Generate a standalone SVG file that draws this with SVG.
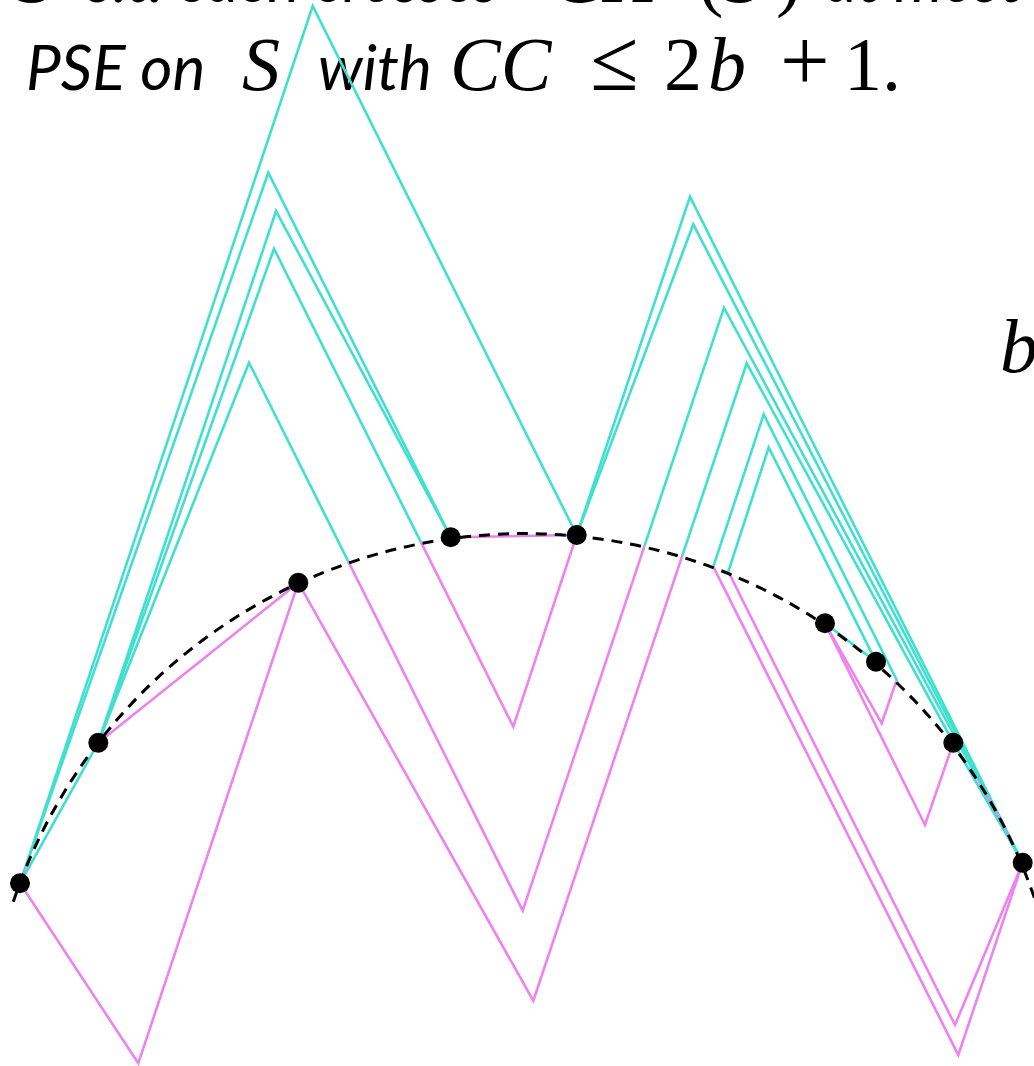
<svg xmlns="http://www.w3.org/2000/svg" xmlns:xlink="http://www.w3.org/1999/xlink" width="1034" height="1066" viewBox="0 0 1034 1066">
<style>
.cy{fill:none;stroke:#40E0D0;stroke-width:2.6;stroke-linejoin:miter;stroke-linecap:round}
.mg{fill:none;stroke:#EE82EE;stroke-width:2.6;stroke-linejoin:miter;stroke-linecap:round}
.hull{fill:none;stroke:#000;stroke-width:3;stroke-dasharray:11 8}
.pt{fill:#000}
.sans{font-family:Lato,"Open Sans","Liberation Sans",sans-serif;font-style:italic;font-size:62px;fill:#000}
.mi{font-style:italic;font-size:76px;fill:#000}
.mr{font-style:normal;font-size:76px;fill:#000}
.op{font-style:normal;font-size:88px;fill:#000}
</style>
<defs>
<clipPath id="inside"><circle cx="524.5" cy="1071.4" r="539"/></clipPath>
<clipPath id="outside"><path clip-rule="evenodd" d="M-50,-50 H1100 V1150 H-50 Z M-14.5,1071.4 a539,539 0 1,0 1078,0 a539,539 0 1,0 -1078,0 Z"/></clipPath>
<path id="e1" d="M20,883.3 L312.7,6 L576.7,535"/>
<path id="e2" d="M20,883.3 L268.3,172.7 L450.7,537.3"/>
<path id="e3" d="M98.3,742.7 L276,211 L450.7,537.3"/>
<path id="e4" d="M98.3,742.7 L274,248.7 L513.3,726.7 L576.7,535"/>
<path id="e5" d="M98.3,742.7 L249,362.7 L522.7,910.7 L724,307.7 L1022.7,862.7"/>
<path id="e6" d="M298.3,582.7 L533.3,1000.7 L746.7,363.3 L953.3,742.7"/>
<path id="e7" d="M298.3,582.7 L138.3,1063.3 L20,883.3"/>
<path id="e8" d="M576.7,535 L690,196.7 L1022.7,862.7"/>
<path id="e9" d="M576.7,535 L693.3,224.3 L1022.7,862.7"/>
<path id="e10" d="M825,623.3 L881.7,723.3 L896.7,680 L763.7,414.3 L713.3,566.7 L958.3,1055 L1022.7,862.7"/>
<path id="e11" d="M876,661.7 L768.7,447.3 L728.3,571.7 L955,1025 L1022.7,862.7"/>
<path id="e12" d="M825,623.3 L925,825 L953.3,742.7"/>
</defs>

<g id="text" font-family="Liberation Serif, DejaVu Serif, serif">
<text class="mi" x="16" y="2">S</text>
<text class="sans" x="88" y="2">s.t. each crosses</text>
<text class="mi" x="552" y="2">CH</text>
<text class="mr" x="698" y="2">(</text>
<text class="mi" x="724" y="2">S</text>
<text class="mr" x="776" y="2">)</text>
<text class="sans" x="826" y="2">at most</text>

<text class="sans" x="26" y="90">PSE on</text>
<text class="mi" x="242" y="90">S</text>
<text class="sans" x="318" y="90">with</text>
<text class="mi" x="450" y="90">CC</text>
<text class="op" x="590" y="90">≤</text>
<text class="mr" x="664" y="90">2</text>
<text class="mi" x="708" y="90">b</text>
<text class="op" x="780" y="90">+</text>
<text class="mr" x="844" y="90">1.</text>
<text class="mi" x="1000" y="372">b</text>
</g>

<g id="connectors">
<g clip-path="url(#outside)">
<use href="#e1" class="cy"/><use href="#e2" class="cy"/><use href="#e3" class="cy"/><use href="#e4" class="cy"/>
<use href="#e5" class="cy"/><use href="#e6" class="cy"/><use href="#e7" class="cy"/><use href="#e8" class="cy"/>
<use href="#e9" class="cy"/><use href="#e10" class="cy"/><use href="#e11" class="cy"/><use href="#e12" class="cy"/>
</g>
<g clip-path="url(#inside)">
<use href="#e1" class="mg"/><use href="#e2" class="mg"/><use href="#e3" class="mg"/><use href="#e4" class="mg"/>
<use href="#e5" class="mg"/><use href="#e6" class="mg"/><use href="#e7" class="mg"/><use href="#e8" class="mg"/>
<use href="#e9" class="mg"/><use href="#e10" class="mg"/><use href="#e11" class="mg"/><use href="#e12" class="mg"/>
</g>
<path class="cy" d="M20,883.3 L98.3,742.7"/>
<path class="mg" d="M98.3,742.7 L298.3,582.7"/>
<path class="mg" d="M450.7,537.3 L576.7,535"/>
<path class="cy" d="M825,623.3 L876,661.7"/>
<path class="cy" d="M953.3,742.7 L1022.7,862.7"/>
</g>

<path id="hull" class="hull" d="M13.3,901.7 A539,539 0 0 1 1035.7,901.7"/>

<g id="p1"><circle class="pt" cx="20" cy="883.3" r="10"/></g>
<g id="p2"><circle class="pt" cx="98.3" cy="742.7" r="10"/></g>
<g id="p3"><circle class="pt" cx="298.3" cy="582.7" r="10"/></g>
<g id="p4"><circle class="pt" cx="450.7" cy="537.3" r="10"/></g>
<g id="p5"><circle class="pt" cx="576.7" cy="535" r="10"/></g>
<g id="p6"><circle class="pt" cx="825" cy="623.3" r="10"/></g>
<g id="p7"><circle class="pt" cx="876" cy="661.7" r="10"/></g>
<g id="p8"><circle class="pt" cx="953.3" cy="742.7" r="10"/></g>
<g id="p9"><circle class="pt" cx="1022.7" cy="862.7" r="10"/></g>
</svg>
